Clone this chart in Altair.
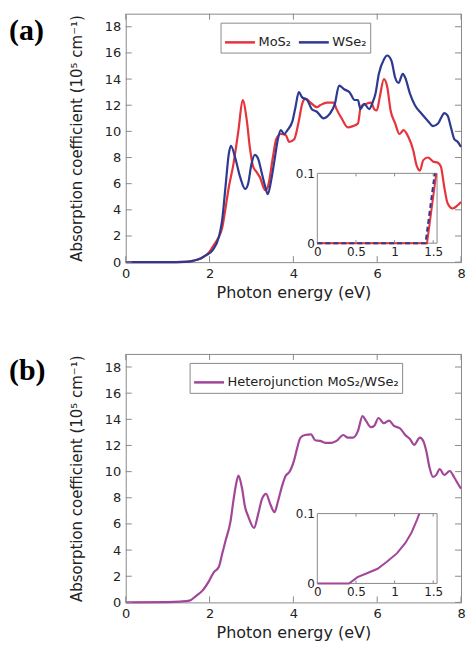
import altair as alt
import pandas as pd

# ---------------- data ----------------
# Panel (a): MoS2
mos2_e = [0, 1.0, 1.4, 1.6, 1.8, 1.9, 2.0, 2.1, 2.2, 2.3, 2.35, 2.46, 2.57, 2.69, 2.79, 2.89, 2.96,
          3.04, 3.12, 3.2, 3.33, 3.39, 3.51, 3.59, 3.70, 3.82, 3.9, 4.02, 4.13, 4.21, 4.29, 4.41,
          4.56, 4.64, 4.8, 4.96, 5.03, 5.15, 5.3, 5.42, 5.54, 5.61, 5.73, 5.85, 5.93, 5.99, 6.06,
          6.16, 6.24, 6.32, 6.43, 6.53, 6.63, 6.74, 6.86, 6.94, 7.02, 7.1, 7.21, 7.33, 7.45, 7.52,
          7.6, 7.68, 7.8, 7.92, 8.0]
mos2_v = [0, 0, 0.02, 0.1, 0.3, 0.5, 0.8, 1.3, 1.8, 2.6, 3.5, 5.75, 7.5, 10.1, 12.4, 10.8, 8.8,
          7.3, 6.9, 6.5, 5.5, 5.75, 8.0, 9.4, 9.8, 9.7, 9.2, 9.4, 10.8, 12.1, 12.5, 12.2,
          11.85, 12.0, 12.2, 12.2, 11.7, 11.0, 10.3, 10.4, 10.6, 11.9, 12.1, 12.2, 11.7, 11.6, 12.6,
          14.0, 13.4, 11.6, 10.6, 9.8, 10.1, 9.6, 8.55, 7.4, 7.0, 7.8, 8.0, 7.7, 7.6, 7.3,
          5.75, 4.5, 4.1, 4.35, 4.6]

# Panel (a): WSe2
wse2_e = [0, 1.0, 1.4, 1.6, 1.8, 1.9, 2.07, 2.22, 2.3, 2.38, 2.46, 2.51, 2.61, 2.73, 2.85, 2.92,
          3.0, 3.08, 3.16, 3.24, 3.33, 3.39, 3.47, 3.55, 3.63, 3.70, 3.78, 3.86, 3.98, 4.05, 4.13,
          4.21, 4.33, 4.44, 4.56, 4.72, 4.87, 4.99, 5.09, 5.22, 5.34, 5.46, 5.54, 5.6, 5.69, 5.81,
          5.89, 5.96, 6.04, 6.16, 6.24, 6.34, 6.43, 6.51, 6.61, 6.67, 6.78, 6.9, 7.06, 7.21, 7.33,
          7.45, 7.52, 7.6, 7.68, 7.76, 7.84, 7.92, 8.0]
wse2_v = [0, 0, 0.02, 0.1, 0.3, 0.5, 0.9, 1.9, 3.2, 5.75, 8.3, 8.9, 8.0, 6.5, 5.6, 6.0,
          7.5, 8.2, 7.9, 6.9, 5.75, 5.2, 6.25, 7.8, 9.4, 10.1, 9.8, 10.1, 10.8, 11.85, 13.0,
          12.6, 12.4, 11.7, 11.5, 11.0, 11.35, 12.1, 13.5, 13.2, 13.0, 12.4, 12.4, 11.7, 12.1, 11.7,
          12.2, 12.9, 14.4, 15.5, 15.8, 15.4, 14.1, 13.7, 14.4, 14.1, 12.9, 12.0, 11.35, 10.8, 10.4,
          10.6, 11.0, 11.4, 11.2, 10.3, 9.4, 9.2, 8.8]

# Panel (b): heterojunction
het_e = [0, 1.0, 1.3, 1.52, 1.68, 1.83, 1.99, 2.1, 2.22, 2.3, 2.38, 2.5, 2.57, 2.65, 2.69, 2.77,
         2.85, 2.92, 3.06, 3.16, 3.25, 3.35, 3.45, 3.55, 3.63, 3.74, 3.82, 3.9, 4.02, 4.09, 4.17,
         4.28, 4.42, 4.52, 4.64, 4.76, 4.91, 5.03, 5.19, 5.3, 5.42, 5.54, 5.65, 5.73, 5.85, 5.93,
         6.03, 6.16, 6.28, 6.4, 6.55, 6.67, 6.78, 6.88, 7.02, 7.1, 7.17, 7.25, 7.33, 7.41, 7.49,
         7.6, 7.73, 7.84, 7.93, 8.0]
het_v = [0, 0.02, 0.06, 0.13, 0.5, 0.9, 1.65, 2.3, 2.7, 3.7, 4.7, 6.2, 7.8, 9.3, 9.7, 8.8,
         7.25, 6.6, 5.7, 6.75, 7.9, 8.3, 7.5, 6.9, 7.7, 9.0, 9.7, 9.95, 10.9, 11.8, 12.6,
         12.8, 12.85, 12.4, 12.35, 12.2, 12.2, 12.35, 12.8, 12.6, 12.6, 13.1, 14.25, 13.9, 13.4, 13.5,
         14.1, 13.7, 13.9, 13.5, 13.3, 12.8, 12.5, 12.05, 12.6, 12.35, 11.6, 10.3, 9.6, 9.75, 10.2,
         9.75, 10.05, 9.55, 9.05, 8.7]

# Insets (zoom near the absorption edge)
inset_a_mos2_e = [0, 1.42, 1.54]
inset_a_mos2_v = [0, 0, 0.1]
inset_a_wse2_e = [0, 1.40, 1.52]
inset_a_wse2_v = [0, 0, 0.1]
inset_b_e = [0, 0.41, 0.52, 0.65, 0.78, 0.9, 1.03, 1.14, 1.22, 1.29, 1.32]
inset_b_v = [0, 0, 0.009, 0.015, 0.021, 0.031, 0.043, 0.058, 0.073, 0.091, 0.1]

# Axis ticks / domains
x_domain = [0, 8]
y_domain = [0, 19]
x_ticks = [0, 2, 4, 6, 8]
y_ticks = [0, 2, 4, 6, 8, 10, 12, 14, 16, 18]
inset_x_domain = [0, 1.55]
inset_y_domain = [0, 0.1]
inset_x_ticks = [0, 0.5, 1, 1.5]
inset_y_ticks = [0, 0.1]
inset_minor_ticks = [0.5, 1, 1.5]

series_a = ["MoS₂", "WSe₂"]
series_b = ["Heterojunction MoS₂/WSe₂"]
panel_labels = ["(a)", "(b)"]

# ---------------- styling ----------------
RED = "#e6343c"
BLUE = "#2d3a90"
PURPLE = "#a2469a"
GRAY = "#8a8a8a"
TEXT = "#222222"
FONT = "DejaVu Sans"

W, H = 336, 249
TL = 6                      # inward tick length
IX0, IX1 = 192, 312         # inset horizontal pixel range inside plot
IY0, IY1 = 230, 160         # inset vertical pixel range (bottom, top)
LABEL_DX, LABEL_DY = -117, 2    # panel letter position relative to plot corner

xs = alt.Scale(domain=x_domain, nice=False, zero=False)
ys = alt.Scale(domain=y_domain, nice=False, zero=False)
ixs = alt.Scale(domain=inset_x_domain, range=[IX0, IX1], nice=False, zero=False)
iys = alt.Scale(domain=inset_y_domain, range=[IY0, IY1], nice=False, zero=False)

ax_x = alt.Axis(values=x_ticks, ticks=False, domain=False, grid=False, labelFlush=False,
                labelFontSize=13, labelPadding=5, format="d",
                title="Photon energy (eV)", titleFontSize=16, titlePadding=4)
ax_y = alt.Axis(values=y_ticks, ticks=False, domain=False, grid=False,
                labelFontSize=13, labelPadding=5, format="d",
                title="Absorption coefficient (10⁵ cm⁻¹)", titleFontSize=15, titlePadding=20)
iax_x = alt.Axis(orient="bottom", offset=-(H - IY0), values=inset_x_ticks, format="~g",
                 ticks=False, domain=False, grid=False, labelFlush=False,
                 labelFontSize=12, labelPadding=3, title=None)
iax_y = alt.Axis(orient="left", offset=-IX0, values=inset_y_ticks, format="~g",
                 ticks=False, domain=False, grid=False,
                 labelFontSize=12, labelPadding=3, title=None)


def frame_ticks():
    tx = pd.DataFrame({"t": x_ticks})
    ty = pd.DataFrame({"t": y_ticks})
    top = alt.Chart(tx).mark_rule(color=GRAY, strokeWidth=1).encode(
        x=alt.X("t:Q", scale=xs, axis=None), y=alt.value(0), y2=alt.value(TL))
    bottom = alt.Chart(tx).mark_rule(color=GRAY, strokeWidth=1).encode(
        x=alt.X("t:Q", scale=xs, axis=None), y=alt.value(H - TL), y2=alt.value(H))
    left = alt.Chart(ty).mark_rule(color=GRAY, strokeWidth=1).encode(
        y=alt.Y("t:Q", scale=ys, axis=None), x=alt.value(0), x2=alt.value(TL))
    right = alt.Chart(ty).mark_rule(color=GRAY, strokeWidth=1).encode(
        y=alt.Y("t:Q", scale=ys, axis=None), x=alt.value(W - TL), x2=alt.value(W))
    return [top, bottom, left, right]


def inset_frame():
    box = pd.DataFrame({"x0": [inset_x_domain[0]], "x1": [inset_x_domain[1]],
                        "y0": [inset_y_domain[0]], "y1": [inset_y_domain[1]]})
    rect = alt.Chart(box).mark_rect(fill="white", stroke=GRAY, strokeWidth=1).encode(
        x=alt.X("x0:Q", scale=ixs, axis=iax_x), x2="x1:Q",
        y=alt.Y("y0:Q", scale=iys, axis=iax_y), y2="y1:Q")
    tk = pd.DataFrame({"t": inset_minor_ticks})
    ttop = alt.Chart(tk).mark_rule(color=GRAY, strokeWidth=1).encode(
        x=alt.X("t:Q", scale=ixs, axis=None), y=alt.value(IY1), y2=alt.value(IY1 + 3))
    tbot = alt.Chart(tk).mark_rule(color=GRAY, strokeWidth=1).encode(
        x=alt.X("t:Q", scale=ixs, axis=None), y=alt.value(IY0 - 3), y2=alt.value(IY0))
    return rect, [ttop, tbot]


def inset_line(e, v, color, dash=None):
    kw = dict(color=color, strokeWidth=2)
    if dash:
        kw["strokeDash"] = dash
    return alt.Chart(pd.DataFrame({"e": e, "v": v})).mark_line(**kw).encode(
        x=alt.X("e:Q", scale=ixs, axis=None), y=alt.Y("v:Q", scale=iys, axis=None))


def panel_letter(txt):
    return alt.Chart(pd.DataFrame({"label": [txt]})).mark_text(
        font="Liberation Serif", fontSize=30, fontWeight="bold", color="black",
        align="left", baseline="top").encode(
        text="label:N", x=alt.value(LABEL_DX), y=alt.value(LABEL_DY))


def legend(x, y):
    return alt.Legend(title=None, orient="none", legendX=x, legendY=y, direction="horizontal",
                      symbolType="stroke", symbolSize=900, symbolStrokeWidth=2.5,
                      labelFontSize=13, labelFont=FONT, labelColor=TEXT, labelOffset=2,
                      labelLimit=0, columnPadding=2, strokeColor=GRAY, fillColor="white",
                      padding=3)


# ---------------- panel (a) ----------------
df_a = pd.concat([
    pd.DataFrame({"e": mos2_e, "v": mos2_v, "series": series_a[0]}),
    pd.DataFrame({"e": wse2_e, "v": wse2_v, "series": series_a[1]}),
])
line_a = alt.Chart(df_a).mark_line(strokeWidth=2.2, interpolate="monotone").encode(
    x=alt.X("e:Q", scale=xs, axis=ax_x),
    y=alt.Y("v:Q", scale=ys, axis=ax_y),
    color=alt.Color("series:N", scale=alt.Scale(domain=series_a, range=[RED, BLUE]),
                    legend=legend(95, 9)),
)
rect_a, iticks_a = inset_frame()
panel_a = alt.layer(
    line_a, *frame_ticks(), rect_a,
    inset_line(inset_a_mos2_e, inset_a_mos2_v, RED),
    inset_line(inset_a_wse2_e, inset_a_wse2_v, BLUE, dash=[5, 3]),
    *iticks_a, panel_letter(panel_labels[0]),
).resolve_scale(x="independent", y="independent").properties(width=W, height=H)

# ---------------- panel (b) ----------------
df_b = pd.DataFrame({"e": het_e, "v": het_v, "series": series_b[0]})
line_b = alt.Chart(df_b).mark_line(strokeWidth=2.2, interpolate="monotone").encode(
    x=alt.X("e:Q", scale=xs, axis=ax_x),
    y=alt.Y("v:Q", scale=ys, axis=ax_y),
    color=alt.Color("series:N", scale=alt.Scale(domain=series_b, range=[PURPLE]),
                    legend=legend(64, 9)),
)
rect_b, iticks_b = inset_frame()
panel_b = alt.layer(
    line_b, *frame_ticks(), rect_b,
    inset_line(inset_b_e, inset_b_v, PURPLE),
    *iticks_b, panel_letter(panel_labels[1]),
).resolve_scale(x="independent", y="independent").properties(width=W, height=H)

chart = alt.vconcat(panel_a, panel_b, spacing=52).resolve_scale(color="independent").properties(
    padding={"left": 0, "top": 4, "right": 0, "bottom": 0}
).configure_view(stroke=GRAY, strokeWidth=1).configure_axis(
    labelFont=FONT, titleFont=FONT, labelColor=TEXT, titleColor=TEXT, titleFontWeight="normal"
).configure_legend(labelFont=FONT)

chart.save("out.html", embed_options={"renderer": "svg", "actions": False})
